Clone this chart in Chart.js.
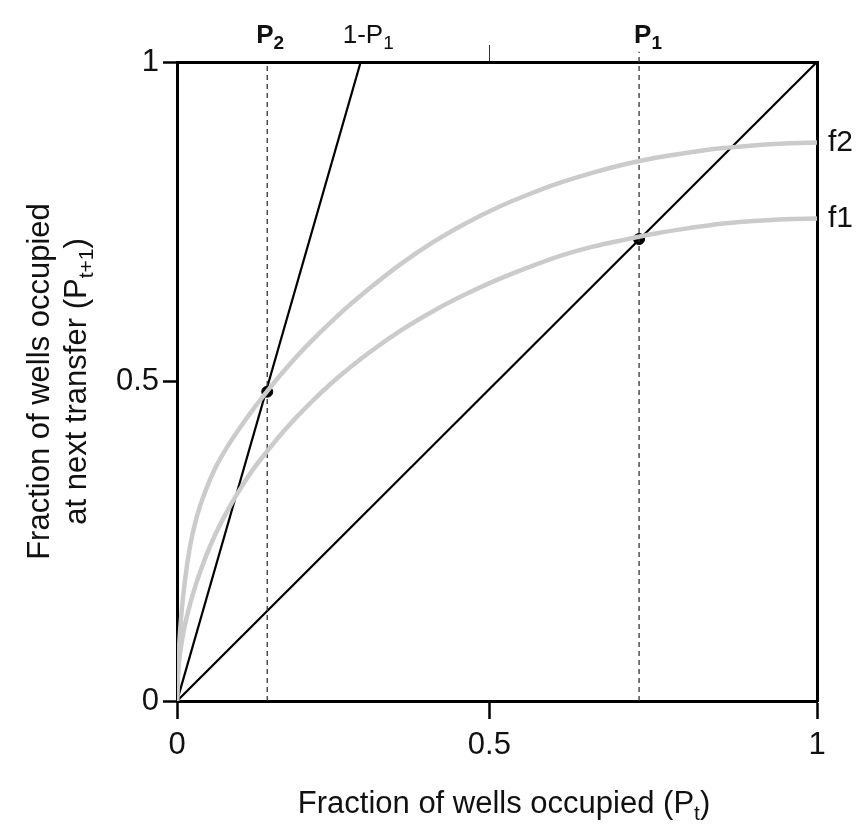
<!DOCTYPE html>
<html>
<head>
<meta charset="utf-8">
<script src="https://cdn.jsdelivr.net/npm/chart.js@4"></script>
<style>
  html, body { margin: 0; padding: 0; background: #fff; }
  #wrap { width: 861px; height: 824px; }
</style>
</head>
<body>
<div id="wrap"><canvas id="chart" width="861" height="824"></canvas></div>
<script>
// --- dữ liệu ---
// vạch chia trục x (vạch giữa trong hình gốc hơi lệch trái)
const xTickPos = [0, 0.488, 1];
const xTickLabels = ['0', '0.5', '1'];
const yTickPos = [0, 0.5, 1];
const yTickLabels = ['0', '0.5', '1'];

const curveX = [0, 0.002, 0.006, 0.012, 0.02, 0.03, 0.045, 0.06, 0.08, 0.1, 0.12, 0.141, 0.17, 0.2, 0.25,
                0.3, 0.35, 0.4, 0.45, 0.5, 0.55, 0.6, 0.65, 0.7, 0.75, 0.8, 0.85, 0.9, 0.95, 1.0];
// f2 (đường xám trên)
const f2Y = [0, 0.06, 0.125, 0.185, 0.24, 0.285, 0.33, 0.365, 0.40, 0.43, 0.458, 0.485, 0.52, 0.553, 0.602,
             0.645, 0.684, 0.718, 0.747, 0.772, 0.793, 0.8115, 0.827, 0.84, 0.8505, 0.8585, 0.865, 0.8695, 0.8725, 0.874];
// f1 (đường xám dưới)
const f1Y = [0, 0.048, 0.083, 0.117, 0.15, 0.184, 0.226, 0.261, 0.300, 0.334, 0.364, 0.391, 0.426, 0.458, 0.505,
             0.545, 0.580, 0.610, 0.636, 0.659, 0.679, 0.697, 0.711, 0.722, 0.732, 0.740, 0.747, 0.751, 0.754, 0.755];

const diagX = [0, 1];
const diagY = [0, 1];

// đường 1-P1 đi từ gốc lên tới đỉnh
const steepX = [0, 0.287];
const steepY = [0, 1];

// hai điểm cân bằng và đường đứt nét
const p2 = 0.141, p2Y = 0.484;
const p1 = 0.722, p1Y = 0.723;
const p2DashY = [0, 1];
const p1DashY = [0, 1.016];

const FONT = "'Liberation Sans', Arial, Helvetica, sans-serif";

function pts(xs, ys) { return xs.map((x, i) => ({ x: x, y: ys[i] })); }

// --- plugin vẽ chữ có chỉ số dưới ---
function drawRich(ctx, parts, x, y, align) {
    let total = 0;
    parts.forEach(p => {
        ctx.font = (p.bold ? 'bold ' : '') + p.size + 'px ' + FONT;
        p.w = ctx.measureText(p.t).width;
        total += p.w;
    });
    let cx = align === 'center' ? x - total / 2 : x;
    parts.forEach(p => {
        ctx.font = (p.bold ? 'bold ' : '') + p.size + 'px ' + FONT;
        ctx.fillText(p.t, cx, y + (p.dy || 0));
        cx += p.w;
    });
}

const textPlugin = {
    id: 'textPlugin',
    afterDraw(chart) {
        const ctx = chart.ctx;
        const xs = chart.scales.x, ys = chart.scales.y;
        const area = chart.chartArea;
        ctx.save();
        ctx.fillStyle = '#111';
        ctx.textAlign = 'left';
        ctx.textBaseline = 'alphabetic';

        // tiêu đề trục x
        drawRich(ctx, [
            { t: 'Fraction of wells occupied (P', size: 31 },
            { t: 't', size: 21, dy: 7 },
            { t: ')', size: 31 }
        ], (area.left + area.right) / 2 + 7, 813, 'center');

        // tiêu đề trục y (2 dòng, xoay)
        const cy = (area.top + area.bottom) / 2;
        ctx.translate(0, cy);
        ctx.rotate(-Math.PI / 2);
        drawRich(ctx, [{ t: 'Fraction of wells occupied', size: 31 }], 0, 49, 'center');
        drawRich(ctx, [
            { t: 'at next transfer (P', size: 31 },
            { t: 't+1', size: 21, dy: 7 },
            { t: ')', size: 31 }
        ], 0, 86, 'center');
        ctx.setTransform(1, 0, 0, 1, 0, 0);

        // nhãn phía trên
        const topY = 43;
        drawRich(ctx, [{ t: 'P', size: 26, bold: true }, { t: '2', size: 19, bold: true, dy: 6 }],
            xs.getPixelForValue(p2) - 11, topY, 'left');
        drawRich(ctx, [{ t: '1-P', size: 26 }, { t: '1', size: 19, dy: 6 }],
            xs.getPixelForValue(steepX[1]) - 18, topY, 'left');
        drawRich(ctx, [{ t: 'P', size: 26, bold: true }, { t: '1', size: 19, bold: true, dy: 6 }],
            xs.getPixelForValue(p1) - 5, topY, 'left');

        // nhãn f1, f2
        ctx.textBaseline = 'middle';
        drawRich(ctx, [{ t: 'f2', size: 30 }], area.right + 11, ys.getPixelForValue(f2Y[f2Y.length - 1]), 'left');
        drawRich(ctx, [{ t: 'f1', size: 30 }], area.right + 11, ys.getPixelForValue(f1Y[f1Y.length - 1]), 'left');
        ctx.restore();
    }
};

const grey = '#cbcbcb';
const lineBase = { showLine: true, pointRadius: 0, fill: false };

const ctx = document.getElementById('chart').getContext('2d');
const chart = new Chart(ctx, {
    type: 'scatter',
    data: {
        datasets: [
            { ...lineBase, label: 'f2', data: pts(curveX, f2Y), borderColor: grey, borderWidth: 4.5, cubicInterpolationMode: 'monotone' },
            { ...lineBase, label: 'f1', data: pts(curveX, f1Y), borderColor: grey, borderWidth: 4.5, cubicInterpolationMode: 'monotone' },
            { ...lineBase, label: 'P2 line', data: pts([p2, p2], p2DashY), borderColor: '#333', borderWidth: 1.3, borderDash: [5, 4] },
            { ...lineBase, label: 'P1 line', data: pts([p1, p1], p1DashY), borderColor: '#333', borderWidth: 1.3, borderDash: [5, 4], clip: false },
            { ...lineBase, label: 'diagonal', data: pts(diagX, diagY), borderColor: '#000', borderWidth: 2.2 },
            { ...lineBase, label: '1-P1', data: pts(steepX, steepY), borderColor: '#000', borderWidth: 2.2 },
            { label: 'points', data: pts([p2, p1], [p2Y, p1Y]), pointRadius: 5.5, pointBackgroundColor: '#000',
              pointBorderColor: '#000', pointBorderWidth: 1, showLine: false }
        ]
    },
    options: {
        responsive: false,
        animation: false,
        events: [],
        layout: { padding: 0 },
        plugins: { legend: { display: false }, tooltip: { enabled: false } },
        scales: {
            x: {
                type: 'linear', position: 'bottom', min: 0, max: 1,
                afterBuildTicks: s => { s.ticks = xTickPos.map(v => ({ value: v })); },
                afterFit: s => { s.height = 123; },
                grid: { drawOnChartArea: false, tickLength: 18, tickWidth: 2.5, color: '#000' },
                border: { display: true, width: 3, color: '#000' },
                ticks: { color: '#111', padding: 8, font: { family: FONT, size: 31 }, maxRotation: 0,
                         callback: (v, i) => xTickLabels[i] }
            },
            x2: {
                type: 'linear', position: 'top', min: 0, max: 1,
                afterBuildTicks: s => { s.ticks = [{ value: xTickPos[1] }]; },
                afterFit: s => { s.height = 62; },
                grid: { drawOnChartArea: false, tickLength: 17, tickWidth: 1, color: '#333' },
                border: { display: true, width: 3, color: '#000' },
                ticks: { display: false }
            },
            y: {
                type: 'linear', position: 'left', min: 0, max: 1,
                afterBuildTicks: s => { s.ticks = yTickPos.map(v => ({ value: v })); },
                afterFit: s => { s.width = 177; },
                grid: { drawOnChartArea: false, tickLength: 14, tickWidth: 2.5, color: '#000' },
                border: { display: true, width: 3, color: '#000' },
                ticks: { color: '#111', padding: 4, font: { family: FONT, size: 31 },
                         callback: (v, i) => yTickLabels[i] }
            },
            y2: {
                type: 'linear', position: 'right', min: 0, max: 1,
                afterFit: s => { s.width = 44; },
                grid: { display: false, drawTicks: false },
                border: { display: true, width: 3, color: '#000' },
                ticks: { display: false }
            }
        }
    },
    plugins: [textPlugin]
});
</script>
</body>
</html>
